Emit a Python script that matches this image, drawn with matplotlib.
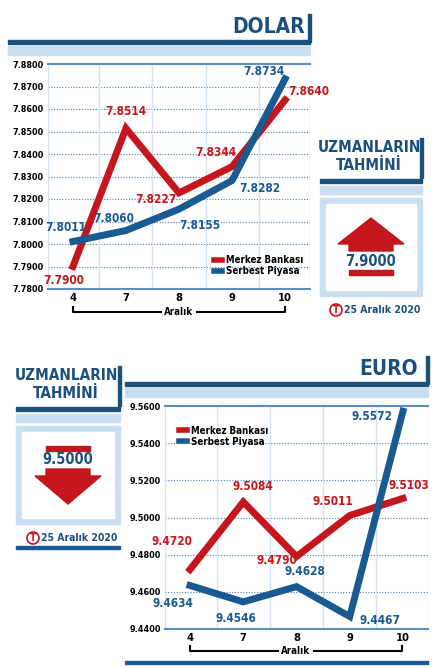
import matplotlib
matplotlib.use("Agg")
import matplotlib.pyplot as plt
from matplotlib.patches import Rectangle, Polygon, Circle
from matplotlib.lines import Line2D

plt.rcParams['font.family'] = ['DejaVu Sans', 'Liberation Sans']
plt.rcParams['font.stretch'] = 'condensed'
plt.rcParams['font.weight'] = 'bold'

days = ["4", "7", "8", "9", "10"]
usd_mb = [7.7900, 7.8514, 7.8227, 7.8344, 7.8640]
usd_sp = [7.8011, 7.8060, 7.8155, 7.8282, 7.8734]
eur_mb = [9.4720, 9.5084, 9.4790, 9.5011, 9.5103]
eur_sp = [9.4634, 9.4546, 9.4628, 9.4467, 9.5572]
usd_ticks = [7.78, 7.79, 7.80, 7.81, 7.82, 7.83, 7.84, 7.85, 7.86, 7.87, 7.88]
eur_ticks = [9.44, 9.46, 9.48, 9.50, 9.52, 9.54, 9.56]
usd_forecast = "7.9000"
eur_forecast = "9.5000"
series_names = ["Merkez Bankası", "Serbest Piyasa"]

W, H = 434, 668
RED = "#c4161c"
BLUE = "#1a5a92"
DARK = "#1b4f7c"
LIGHT = "#c9def0"

fig = plt.figure(figsize=(W/100, H/100), dpi=100)
fig.patch.set_facecolor("white")

def rect(x0, y0, x1, y1):
    return [x0/W, 1-y1/H, (x1-x0)/W, (y1-y0)/H]

deco = fig.add_axes([0, 0, 1, 1])
deco.set_xlim(0, W); deco.set_ylim(H, 0); deco.axis("off")

def header(x0, x1, yline, text, tx, ty):
    deco.add_patch(Rectangle((x0, yline-2), x1-x0, 4, color=DARK))
    deco.add_patch(Rectangle((x0, yline+4), x1-x0, 9, color=LIGHT))
    deco.add_patch(Rectangle((x1-2, yline-28), 3, 28, color=DARK))
    deco.text(tx, ty, text, color=DARK, fontsize=15, ha="right", va="center")

def forecast(x0, x1, ytop, val, up):
    deco.text((x0+x1)/2-2, ytop, "UZMANLARIN", color=DARK, fontsize=11, ha="center", va="center")
    deco.text((x0+x1)/2-2, ytop+18, "TAHMİNİ", color=DARK, fontsize=11, ha="center", va="center")
    deco.add_patch(Rectangle((x1-2, ytop-10), 3, 40, color=DARK))
    deco.add_patch(Rectangle((x0, ytop+31), x1-x0, 4, color=DARK))
    deco.add_patch(Rectangle((x0, ytop+38), x1-x0, 8, color=LIGHT))
    by = ytop+50
    deco.add_patch(Rectangle((x0, by), x1-x0, 98, color=LIGHT))
    deco.add_patch(Rectangle((x0+6, by+6), x1-x0-12, 86, color="white"))
    cx = (x0+x1)/2
    if up:
        deco.add_patch(Polygon([(cx-33, by+46), (cx, by+20), (cx+33, by+46), (cx+22, by+46),
                                (cx+22, by+53), (cx-22, by+53), (cx-22, by+46)], color=RED))
        deco.text(cx, by+63, val, color=DARK, fontsize=10.5, ha="center", va="center")
        deco.add_patch(Rectangle((cx-22, by+72), 44, 5, color=RED))
    else:
        deco.add_patch(Rectangle((cx-22, by+20), 44, 5, color=RED))
        deco.text(cx, by+33, val, color=DARK, fontsize=10.5, ha="center", va="center")
        deco.add_patch(Polygon([(cx-22, by+43), (cx+22, by+43), (cx+22, by+50), (cx+33, by+50),
                                (cx, by+78), (cx-33, by+50), (cx-22, by+50)], color=RED))
    ty = by+112
    deco.add_patch(Circle((cx-35, ty), 6, fill=False, ec=RED, lw=1.2))
    deco.text(cx-35, ty, "T", color=RED, fontsize=7, ha="center", va="center")
    deco.text(cx-27, ty, "25 Aralık 2020", color=DARK, fontsize=7.5, ha="left", va="center")

def bracket(x0, x1, y):
    deco.plot([x0, x0, (x0+x1)/2-18], [y-5, y, y], color="black", lw=1.5)
    deco.plot([(x0+x1)/2+18, x1, x1], [y, y, y-5], color="black", lw=1.5)
    deco.text((x0+x1)/2, y, "Aralık", fontsize=7, ha="center", va="center")

def chart(r, mb, sp, ticks, lo, hi, fmt, mboff, spoff, legloc):
    ax = fig.add_axes(r)
    x = list(range(len(days)))
    ax.set_xlim(-0.47, 4.47); ax.set_ylim(lo, hi)
    ax.set_yticks(ticks); ax.set_yticklabels([fmt % t for t in ticks], fontsize=6.5)
    ax.set_xticks(x); ax.set_xticklabels(days, fontsize=8)
    ax.tick_params(length=0, pad=3)
    for s in ["left", "right"]:
        ax.spines[s].set_visible(False)
    ax.spines["top"].set_color("#5a8fc0"); ax.spines["bottom"].set_color("#5a8fc0")
    ax.spines["top"].set_linewidth(1.5); ax.spines["bottom"].set_linewidth(1.5)
    for t in ticks[1:-1]:
        ax.axhline(t, color="#4a7fb8", lw=0.8, ls=(0, (1, 1.5)))
    for xi in [-0.47, 0.5, 1.5, 2.5, 3.5, 4.47]:
        ax.axvline(xi, color="#d4e3f1", lw=1)
    ax.plot(x, mb, color=RED, lw=5, solid_joinstyle="miter", zorder=3)
    ax.plot(x, sp, color=BLUE, lw=5, solid_joinstyle="miter", zorder=4)
    for i in x:
        ax.annotate("%.4f" % mb[i], (i, mb[i]), xytext=mboff[i], textcoords="offset points",
                    color=RED, fontsize=8.5, ha="center", va="center", zorder=5)
        ax.annotate("%.4f" % sp[i], (i, sp[i]), xytext=spoff[i], textcoords="offset points",
                    color=BLUE, fontsize=8.5, ha="center", va="center", zorder=5)
    handles = [Line2D([], [], color=RED, lw=4), Line2D([], [], color=BLUE, lw=4)]
    ax.legend(handles, series_names, loc=legloc, frameon=False, fontsize=7,
              handlelength=0.8, handletextpad=0.4, labelspacing=0.1)
    return ax

header(8, 310, 42, "DOLAR", 305, 27)
chart(rect(48, 64, 310, 289), usd_mb, usd_sp, usd_ticks, 7.78, 7.88, "%.4f",
      [(-7, -10), (0, 12), (-17, -5), (-12, 10), (17, 6)],
      [(-5, 10), (-9, 9), (15, -12), (20, -6), (-15, 5)], (0.62, 0.04))
forecast(320, 422, 148, usd_forecast, True)
bracket(73, 285, 312)

header(125, 428, 384, "EURO", 418, 369)
chart(rect(165, 406, 428, 629), eur_mb, eur_sp, eur_ticks, 9.44, 9.56, "%.4f",
      [(-13, 20), (7, 11), (-14, -3), (-12, 10), (4, 9)],
      [(-12, -13), (-5, -12), (6, 11), (22, -3), (-22, -4)], (0.04, 0.8))
forecast(16, 120, 376, eur_forecast, False)
bracket(190, 402, 651)
deco.add_patch(Rectangle((16, 546), 104, 3, color=BLUE))
deco.add_patch(Rectangle((125, 661), 303, 3, color=BLUE))

fig.savefig("out.png", dpi=100)
